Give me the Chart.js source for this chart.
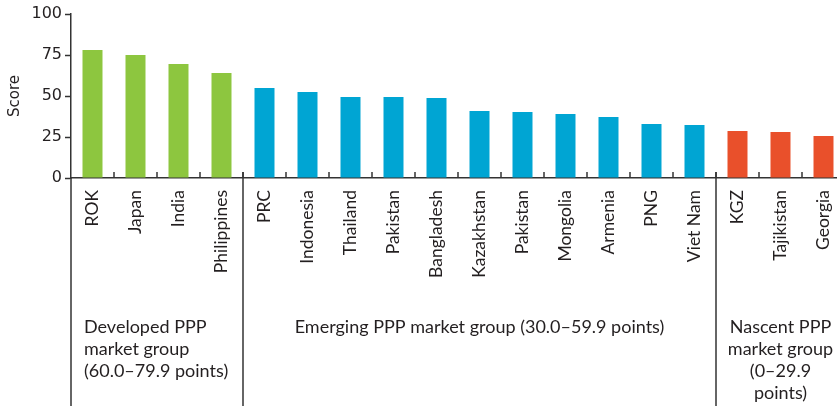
<!DOCTYPE html>
<html>
<head>
<meta charset="utf-8">
<script src="https://cdn.jsdelivr.net/npm/chart.js@4"></script>
<style>
html, body { margin: 0; padding: 0; overflow: hidden; background: #fff; width: 837px; height: 406px; }
#wrap { width: 837px; height: 406px; overflow: hidden; position: relative; }
#chart { position: absolute; left: 0; top: 0; }
</style>
</head>
<body>
<div id="wrap"><canvas id="chart" width="845" height="406"></canvas></div>
<script>
const countries = ['ROK', 'Japan', 'India', 'Philippines', 'PRC', 'Indonesia', 'Thailand', 'Pakistan',
    'Bangladesh', 'Kazakhstan', 'Pakistan', 'Mongolia', 'Armenia', 'PNG', 'Viet Nam', 'KGZ', 'Tajikistan', 'Georgia'];
const scores = [78.0, 75.0, 69.5, 64.0, 54.9, 52.4, 49.4, 49.4, 48.8, 40.9, 40.2, 39.0, 37.2, 32.9, 32.3, 28.7, 28.0, 25.6];
const groupSizes = [4, 11, 3];
const groupColors = ['#8dc63f', '#00a5d3', '#e9502b'];
const groupLabels = [
    ['Developed PPP', 'market group', '(60.0–79.9 points)'],
    ['Emerging PPP market group (30.0–59.9 points)'],
    ['Nascent PPP', 'market group', '(0–29.9', 'points)']
];
const yTicks = [0, 25, 50, 75, 100];

const LINE = '#333333';
const TEXT = '#231f20';

// une couleur par barre selon son groupe
const barColors = [];
groupSizes.forEach((n, g) => { for (let i = 0; i < n; i++) barColors.push(groupColors[g]); });

const groupPlugin = {
    id: 'groups',
    afterDraw(chart) {
        const { ctx, chartArea, scales: { x } } = chart;
        const h = chart.height;
        const half = (x.getPixelForValue(1) - x.getPixelForValue(0)) / 2;
        ctx.save();
        ctx.strokeStyle = LINE;
        ctx.lineWidth = 1.5;

        // axe y prolongé jusqu'en bas
        ctx.beginPath();
        ctx.moveTo(chartArea.left, chartArea.bottom);
        ctx.lineTo(chartArea.left, h);
        ctx.stroke();

        // petites graduations vers le haut entre les catégories
        for (let i = 1; i < countries.length; i++) {
            const px = x.getPixelForValue(i) - half;
            ctx.beginPath();
            ctx.moveTo(px, chartArea.bottom - 6);
            ctx.lineTo(px, chartArea.bottom);
            ctx.stroke();
        }

        // séparateurs et textes des groupes
        ctx.fillStyle = TEXT;
        ctx.font = '18px Lato';
        ctx.textBaseline = 'middle';
        let start = 0;
        groupSizes.forEach((n, g) => {
            const left = x.getPixelForValue(start) - half;
            const right = x.getPixelForValue(start + n - 1) + half;
            if (g > 0) {
                ctx.beginPath();
                ctx.moveTo(left, chartArea.bottom - 6);
                ctx.lineTo(left, h);
                ctx.stroke();
            }
            const lines = groupLabels[g];
            lines.forEach((t, k) => {
                const y = 327 + k * 22;
                if (g === 0) {
                    ctx.textAlign = 'left';
                    ctx.fillText(t, left + 13, y);
                } else {
                    ctx.textAlign = 'center';
                    ctx.fillText(t, (left + right) / 2, y);
                }
            });
            start += n;
        });
        ctx.restore();
    }
};

new Chart(document.getElementById('chart'), {
    type: 'bar',
    data: {
        labels: countries,
        datasets: [{
            data: scores,
            backgroundColor: barColors,
            categoryPercentage: 1,
            barPercentage: 0.465
        }]
    },
    options: {
        responsive: false,
        animation: false,
        layout: { padding: { top: 14, left: 0, right: 0, bottom: 0 } },
        plugins: { legend: { display: false }, tooltip: { enabled: false } },
        scales: {
            x: {
                grid: { display: false, drawTicks: false },
                border: { color: LINE, width: 1.5 },
                ticks: {
                    minRotation: 90, maxRotation: 90, autoSkip: false, padding: 12,
                    color: TEXT, font: { family: 'Lato', size: 17.5 }
                },
                afterFit(s) {
                    s.height = 228;
                    s.paddingLeft = 0;
                    s.paddingRight = 0;
                }
            },
            y: {
                min: 0, max: 100,
                afterBuildTicks(s) { s.ticks = yTicks.map(v => ({ value: v })); },
                grid: { drawOnChartArea: false, tickLength: 6, tickColor: LINE, tickWidth: 1.5 },
                border: { color: LINE, width: 1.5 },
                ticks: { padding: 3, color: TEXT, font: { family: 'DejaVu Sans', size: 16 } },
                title: {
                    display: true, text: 'Score', color: TEXT,
                    font: { family: 'DejaVu Sans', size: 15 }, padding: { top: 6, bottom: 0 }
                },
                afterFit(s) { s.width = 71; }
            }
        }
    },
    plugins: [groupPlugin]
});
</script>
</body>
</html>
